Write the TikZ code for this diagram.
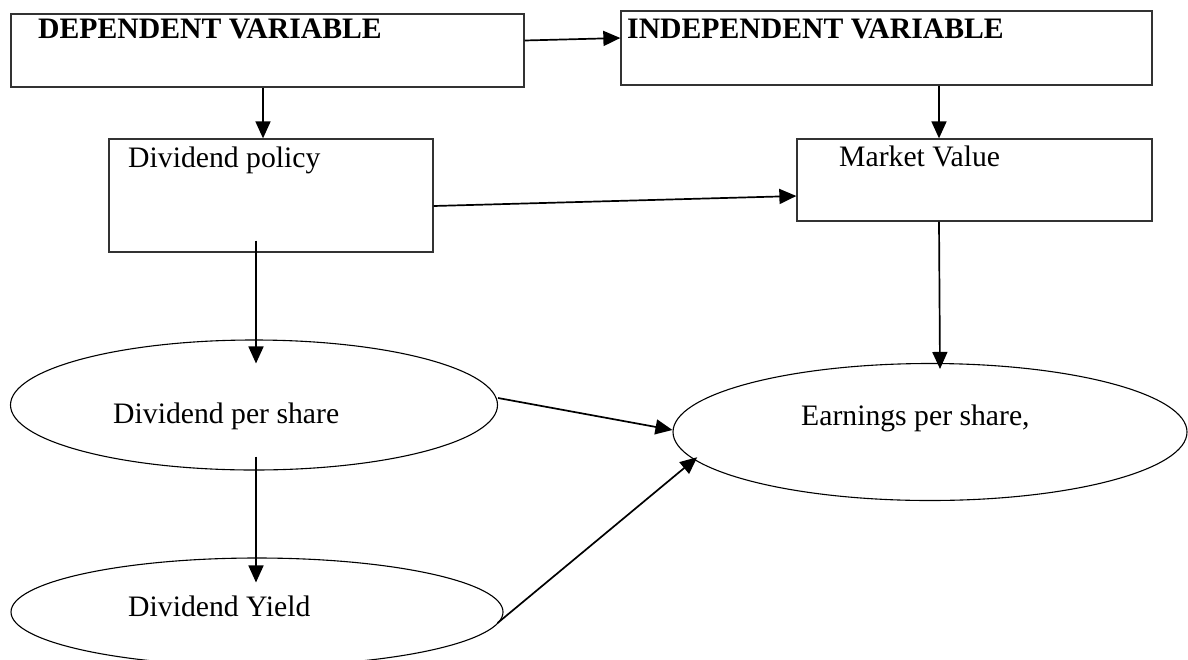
\documentclass[tikz,border=0pt]{standalone}
\usepackage{fontspec}
\setmainfont{Liberation Serif}
\usepackage{tikz}
\usetikzlibrary{arrows.meta,positioning,calc,shapes.geometric}
\definecolor{figline}{HTML}{333333}

\tikzset{
  varbox/.style={draw=figline, line width=1.3pt, rectangle, inner sep=0pt},
  oval/.style={draw=black, line width=1.1pt, ellipse, inner sep=0pt},
  arr/.style={-{Triangle[length=17pt,width=15pt]}, line width=1.7pt, color=black},
  lbl/.style={anchor=base west, inner sep=0pt, font=\fontsize{29.7pt}{34pt}\selectfont},
  lblb/.style={lbl, font=\fontsize{29.7pt}{34pt}\selectfont\bfseries}
}

\begin{document}
\begin{tikzpicture}[x=1pt,y=-1pt]
\useasboundingbox (0,0) rectangle (1188,659);

% boxes
\node[varbox, minimum width=513pt, minimum height=73pt] (dep) at (267.5,50.5) {};
\node[varbox, minimum width=531pt, minimum height=74pt] (indep) at (886.5,48) {};
\node[varbox, minimum width=324pt, minimum height=113pt] (dp) at (271,195.5) {};
\node[varbox, minimum width=355pt, minimum height=82pt] (mv) at (974.5,180) {};

% ovals
\node[oval, minimum width=487pt, minimum height=130pt] (dps) at (254,405) {};
\node[oval, minimum width=514pt, minimum height=137pt] (eps) at (930,432) {};
\node[oval, minimum width=492pt, minimum height=108pt] (dy) at (257,612) {};

% labels
\node[lblb] (deptext) at (38,38) {DEPENDENT VARIABLE};
\node[lblb] (indeptext) at (627,38) {INDEPENDENT VARIABLE};
\node[lbl] (dptext) at (128,167) {Dividend policy};
\node[lbl] (mvtext) at (839,166) {Market Value};
\node[lbl] (dpstext) at (113,423) {Dividend per share};
\node[lbl] (epstext) at (801,425) {Earnings per share,};
\node[lbl] (dytext) at (128,616) {Dividend Yield};

% connectors
\draw[arr] ([yshift=10pt]dep.east) -- ([yshift=10pt]indep.west);
\draw[arr] ([xshift=-4.5pt]dep.south) -- ([xshift=-4.5pt]dep.south |- dp.north);
\draw[arr] ([xshift=52.5pt]indep.south) -- ([xshift=52.5pt]indep.south |- mv.north);
\draw[arr] ([yshift=-10.5pt]dp.east) -- ([yshift=-16pt]mv.west);
\draw[arr] ([xshift=-35.5pt]mv.south) -- ([xshift=10pt,yshift=-6pt]eps.north);
\draw[arr] ([xshift=-15pt,yshift=12pt]dp.south) -- ([xshift=2pt,yshift=-24pt]dps.north);
\draw[arr] ([xshift=2pt,yshift=14pt]dps.south) -- ([xshift=-1pt,yshift=-25pt]dy.north);
\draw[arr] ([yshift=7pt]dps.east) -- ([yshift=2pt]eps.west);
\draw[arr] ([xshift=-6pt,yshift=-11pt]dy.east) -- ([xshift=7pt]eps.186);
\end{tikzpicture}
\end{document}
